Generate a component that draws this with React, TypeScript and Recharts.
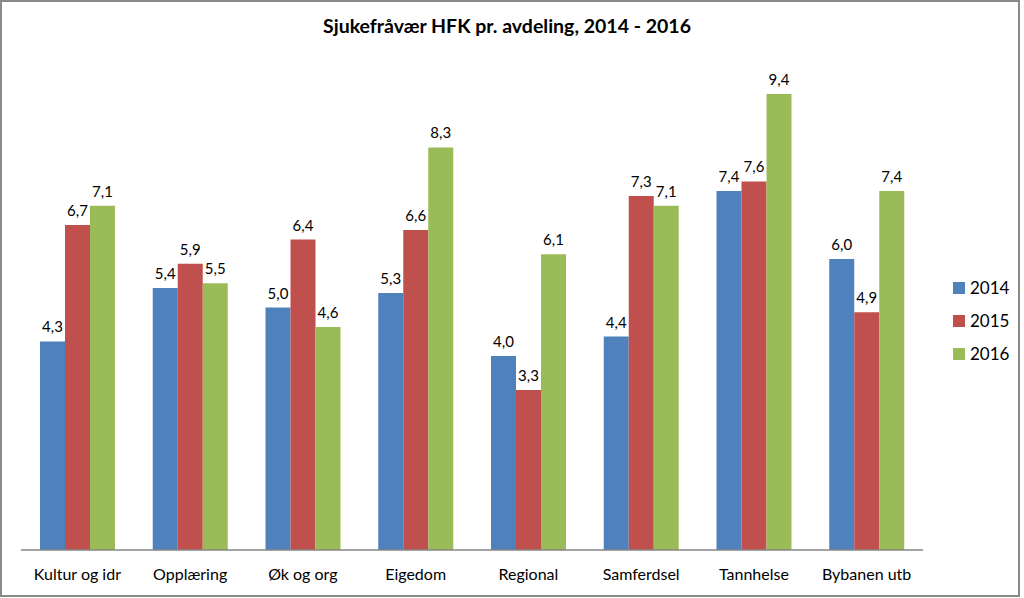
import { BarChart, Bar, XAxis, YAxis, LabelList } from "recharts"

const categories = ["Kultur og idr", "Opplæring", "Øk og org", "Eigedom", "Regional", "Samferdsel", "Tannhelse", "Bybanen utb"]
const values2014 = [4.3, 5.4, 5.0, 5.3, 4.0, 4.4, 7.4, 6.0]
const values2015 = [6.7, 5.9, 6.4, 6.6, 3.3, 7.3, 7.6, 4.9]
const values2016 = [7.1, 5.5, 4.6, 8.3, 6.1, 7.1, 9.4, 7.4]

const series = [
  { key: "y2014", name: "2014", color: "#4F81BD" },
  { key: "y2015", name: "2015", color: "#C0504D" },
  { key: "y2016", name: "2016", color: "#9BBB59" }
]

const data = categories.map((c, i) => ({
  name: c,
  y2014: values2014[i],
  y2015: values2015[i],
  y2016: values2016[i]
}))

const FONT = "Lato, 'Liberation Sans', sans-serif"

// comma as decimal separator, always one decimal
const fmt = (v: any) => Number(v).toFixed(1).replace(".", ",")

function LegendBox() {
  return (
    <div style={{ position: "absolute", left: 953, top: 271, fontFamily: FONT, fontSize: 17, color: "#000" }}>
      {series.map(s => (
        <div key={s.key} style={{ display: "flex", alignItems: "center", height: 33 }}>
          <span style={{ width: 12, height: 12, background: s.color, marginRight: 5, display: "inline-block" }} />
          <span>{s.name}</span>
        </div>
      ))}
    </div>
  )
}

export default function App() {
  return (
    <div style={{ position: "fixed", left: 0, top: 0, width: 1024, height: 598, background: "#fff" }}>
      <div style={{
        position: "absolute", left: 0, top: 0, width: 1020, height: 597,
        boxSizing: "border-box", border: "2px solid #8a8a8a"
      }} />
      <div style={{
        position: "absolute", left: 0, top: 14, width: 1014, textAlign: "center",
        fontFamily: FONT, fontWeight: 700, fontSize: 19.5, color: "#000"
      }}>
        Sjukefråvær HFK pr. avdeling, 2014 - 2016
      </div>
      <div style={{ position: "absolute", left: 0, top: 0 }}>
        <BarChart
          width={1024}
          height={598}
          data={data}
          margin={{ top: 65, right: 101, bottom: 18, left: 21 }}
          barGap={0}
          barCategoryGap={19}
        >
          <XAxis
            dataKey="name"
            height={30}
            tickLine={false}
            axisLine={{ stroke: "#868686", strokeWidth: 1.5 }}
            tickMargin={13}
            interval={0}
            tick={{ fill: "#000", fontSize: 16, fontFamily: FONT }}
          />
          <YAxis hide domain={[0, 10]} />
          {series.map(s => (
            <Bar key={s.key} dataKey={s.key} name={s.name} fill={s.color} isAnimationActive={false}>
              <LabelList
                dataKey={s.key}
                position="top"
                offset={9}
                formatter={fmt}
                style={{ fill: "#000", fontSize: 15, fontFamily: FONT }}
              />
            </Bar>
          ))}
        </BarChart>
      </div>
      <LegendBox />
    </div>
  )
}
